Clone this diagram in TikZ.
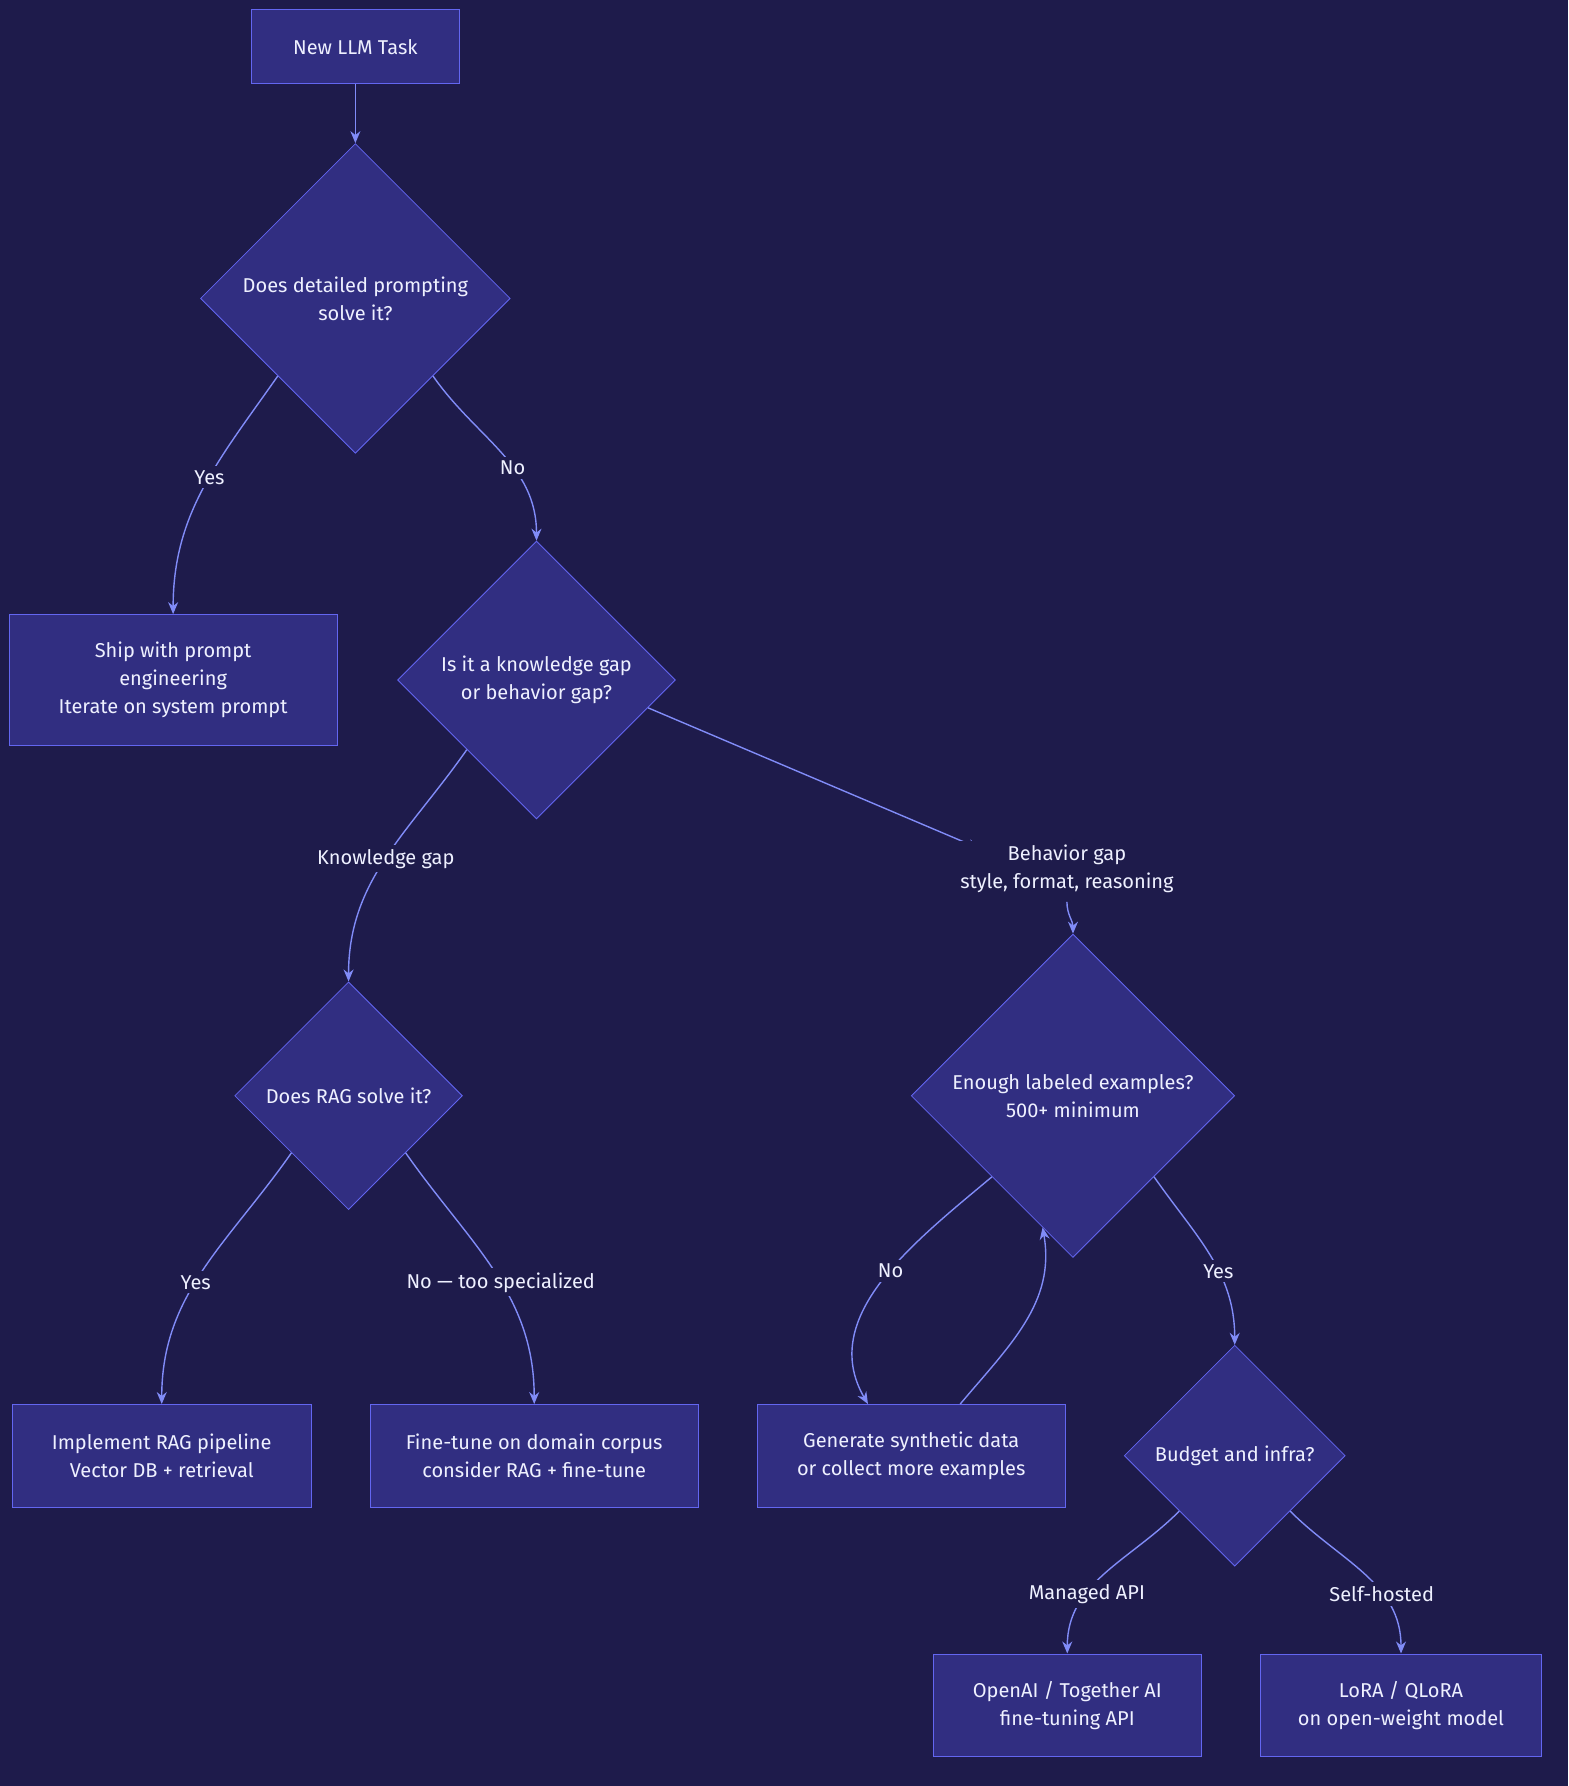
\documentclass[tikz,border=0pt]{standalone}
\usepackage{fontspec}
\setmainfont{Fira Sans}
\usetikzlibrary{shapes.geometric,arrows.meta,calc}
\definecolor{bg}{HTML}{1E1B4B}
\definecolor{boxfill}{HTML}{312E81}
\definecolor{boxline}{HTML}{6366F1}
\definecolor{wire}{HTML}{818CF8}
\definecolor{ink}{HTML}{EEF0FF}
\tikzset{
  box/.style={rectangle, draw=boxline, fill=boxfill, text=ink, align=center, font=\fontsize{10}{14}\selectfont},
  choice/.style={diamond, draw=boxline, fill=boxfill, text=ink, align=center, inner sep=0pt, font=\fontsize{10}{14}\selectfont},
  edge/.style={draw=wire, line width=0.7pt, -{Stealth[length=6pt,width=5pt]}},
  lbl/.style={fill=bg, text=ink, align=center, inner sep=2pt, font=\fontsize{10}{14}\selectfont}
}
\begin{document}
\begin{tikzpicture}[x=0.02cm,y=-0.02cm]
    \fill[bg] (0,0) rectangle (1377,1568);
    \useasboundingbox (0,0) rectangle (1377,1568);

    % nodes
    \node[box, minimum width=3.66cm, minimum height=1.30cm] (start) at (312,41) {New LLM Task};
    \node[choice, minimum width=5.44cm, minimum height=5.44cm] (prompt) at (312,262) {Does detailed prompting\\solve it?};
    \node[box, minimum width=5.76cm, minimum height=2.30cm] (ship) at (152,597) {Ship with prompt\\engineering\\Iterate on system prompt};
    \node[choice, minimum width=4.88cm, minimum height=4.88cm] (gap) at (471,597) {Is it a knowledge gap\\or behavior gap?};
    \node[choice, minimum width=4.0cm, minimum height=4.0cm] (rag) at (306,962) {Does RAG solve it?};
    \node[choice, minimum width=5.68cm, minimum height=5.68cm] (enough) at (942,962) {Enough labeled examples?\\500+ minimum};
    \node[box, minimum width=5.24cm, minimum height=1.80cm] (ragpipe) at (142,1278) {Implement RAG pipeline\\Vector DB + retrieval};
    \node[box, minimum width=5.76cm, minimum height=1.80cm] (domain) at (469,1278) {Fine-tune on domain corpus\\consider RAG + fine-tune};
    \node[box, minimum width=5.40cm, minimum height=1.80cm] (synth) at (800,1278) {Generate synthetic data\\or collect more examples};
    \node[choice, minimum width=3.88cm, minimum height=3.88cm] (budget) at (1084,1278) {Budget and infra?};
    \node[box, minimum width=4.72cm, minimum height=1.80cm] (managed) at (937,1497) {OpenAI / Together AI\\fine-tuning API};
    \node[box, minimum width=4.94cm, minimum height=1.80cm] (hosted) at (1230,1497) {LoRA / QLoRA\\on open-weight model};

    % connectors
    \draw[edge] (start) -- (prompt);
    \draw[edge] (prompt.south west) to[out=-125,in=90] node[lbl, pos=0.45] {Yes} (ship.north);
    \draw[edge] (prompt.south east) to[out=-55,in=90] node[lbl, pos=0.6] {No} (gap.north);
    \draw[edge] (gap.south west) to[out=-125,in=90] node[lbl, pos=0.5] {Knowledge gap} (rag.north);
    \draw[edge] (gap.-14) -- (860,745) node[lbl, anchor=north west, xshift=-12pt, yshift=4pt] (bg1) {Behavior gap\\style, format, reasoning};
    \draw[edge] (bg1.south) ++(0,-2pt) to[out=-90,in=90] (enough.north);
    \draw[edge] (rag.south west) to[out=-125,in=90] node[lbl, pos=0.55] {Yes} (ragpipe.north);
    \draw[edge] (rag.south east) to[out=-55,in=90] node[lbl, pos=0.55] {No — too specialized} (domain.north);
    \draw[edge] (enough.south west) to[out=-140,in=120] node[lbl, pos=0.45] {No} ($(synth.north)+(-0.76cm,0)$);
    \draw[edge] ($(synth.north)+(0.86cm,0)$) to[out=50,in=-80] (enough.-103);
    \draw[edge] (enough.south east) to[out=-55,in=90] node[lbl, pos=0.6] {Yes} (budget.north);
    \draw[edge] (budget.south west) to[out=-135,in=90] node[lbl, pos=0.65] {Managed API} (managed.north);
    \draw[edge] (budget.south east) to[out=-45,in=90] node[lbl, pos=0.65] {Self-hosted} (hosted.north);
\end{tikzpicture}
\end{document}
